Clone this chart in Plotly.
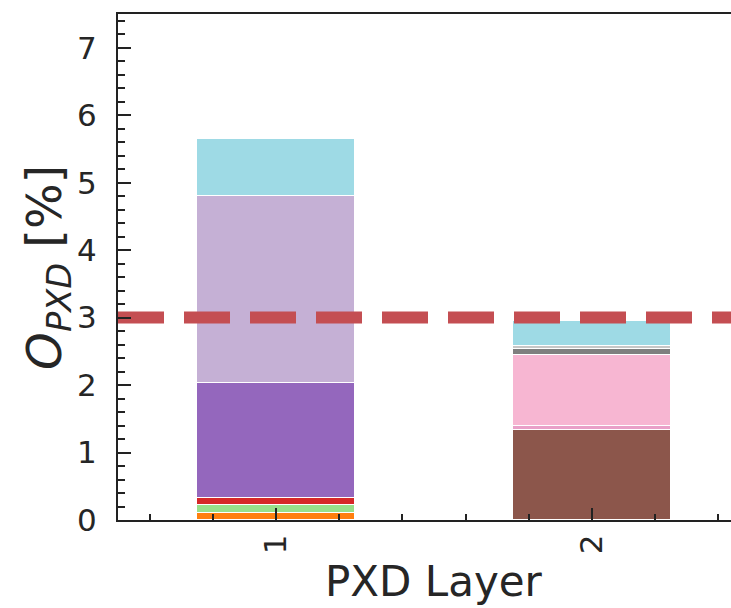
import plotly.graph_objects as go

# PXD layers on the x axis
layers = [1, 2]

# Occupancy contributions per source, in percent (None = no contribution)
occ_orange = [0.111, None]
occ_lightgreen = [0.107, None]
occ_red = [0.115, None]
occ_purple = [1.704, None]
occ_lightpurple = [2.770, None]
occ_brown = [None, 1.340]
occ_pink = [None, 0.050]
occ_lightpink = [None, 1.062]
occ_grey = [None, 0.081]
occ_lightgrey = [None, 0.047]
occ_lightcyan = [0.837, 0.368]

# Occupancy limit
occ_limit = 3.0

y_ticks = [0, 1, 2, 3, 4, 5, 6, 7]
x_ticks = [1, 2]

stack = [
    ("orange", occ_orange, "#ff7f0e"),
    ("light green", occ_lightgreen, "#98df8a"),
    ("red", occ_red, "#d62728"),
    ("purple", occ_purple, "#9467bd"),
    ("light purple", occ_lightpurple, "#c5b0d5"),
    ("brown", occ_brown, "#8c564b"),
    ("pink", occ_pink, "#e9a0c8"),
    ("light pink", occ_lightpink, "#f7b6d2"),
    ("grey", occ_grey, "#7f7f7f"),
    ("light grey", occ_lightgrey, "#c7c7c7"),
    ("light cyan", occ_lightcyan, "#9edae5"),
]

FONT = "DejaVu Sans"
INK = "#262626"

fig = go.Figure()
for name, vals, color in stack:
    fig.add_trace(go.Bar(
        x=layers, y=vals, name=name, width=0.5,
        marker=dict(color=color, line=dict(color="white", width=1.5)),
        showlegend=False,
    ))

x_lo, x_hi = 0.5, 2.44
fig.add_trace(go.Scatter(
    x=[x_lo, x_hi], y=[occ_limit, occ_limit], mode="lines",
    line=dict(color="#c44e52", width=12, dash="46px,20px"),
    showlegend=False, hoverinfo="skip",
))

fig.update_layout(
    width=731, height=608,
    margin=dict(l=118, r=0, t=14, b=88),
    paper_bgcolor="white", plot_bgcolor="white",
    barmode="stack", bargap=0,
    font=dict(family=FONT, color=INK),
    xaxis=dict(
        range=[x_lo, x_hi], tickmode="array", tickvals=x_ticks,
        ticktext=[str(v) for v in x_ticks], tickangle=-90,
        ticks="inside", ticklen=12, tickwidth=2, tickcolor="#222",
        minor=dict(tickmode="linear", tick0=0, dtick=0.2, ticks="inside",
                   ticklen=6, tickwidth=1.5, tickcolor="#222"),
        showline=True, linecolor="#222", linewidth=2, mirror=True,
        showgrid=False, zeroline=False,
        tickfont=dict(size=31, family=FONT, color=INK),
        ticklabelstandoff=0,
    ),
    yaxis=dict(
        range=[0, 7.5], tickmode="array", tickvals=y_ticks,
        ticks="inside", ticklen=13, tickwidth=2, tickcolor="#222",
        minor=dict(tickmode="linear", tick0=0, dtick=0.2, ticks="inside",
                   ticklen=7, tickwidth=1.5, tickcolor="#222"),
        showline=True, linecolor="#222", linewidth=2, mirror=False,
        showgrid=False, zeroline=False,
        tickfont=dict(size=31, family=FONT, color=INK),
        ticklabelstandoff=13,
    ),
    annotations=[
        dict(text="PXD Layer", xref="x", x=1.5, yref="paper", y=-0.121,
             xanchor="center", yanchor="middle", showarrow=False,
             font=dict(size=42, family=FONT, color=INK)),
        dict(text="<i>O</i><sub><i>PXD</i></sub> [%]", xref="paper",
             x=-0.116, yref="paper", y=0.5, textangle=-90,
             xanchor="center", yanchor="middle", showarrow=False,
             font=dict(size=48, family=FONT, color=INK)),
    ],
)

fig.write_html("out.html")
